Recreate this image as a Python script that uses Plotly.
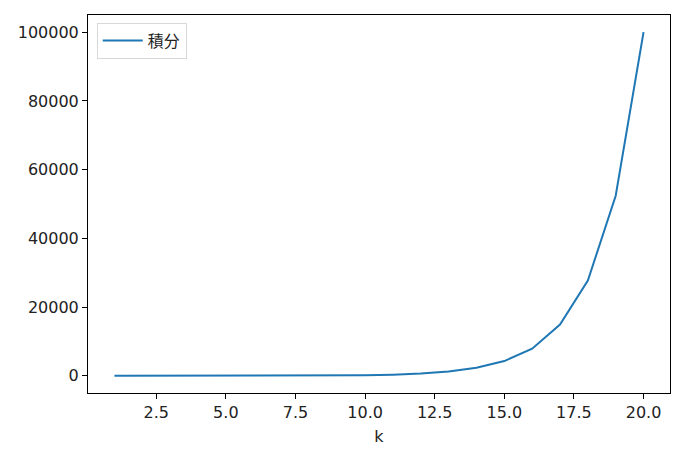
import plotly.graph_objects as go

# values
k = list(range(1, 21))
integral = [0.5, 1, 2, 4, 7, 14, 26, 50, 95, 180,
            340, 650, 1250, 2350, 4300, 7900, 14900, 27700, 52400, 100000]

x_ticks = [2.5, 5.0, 7.5, 10.0, 12.5, 15.0, 17.5, 20.0]
x_tick_text = ["2.5", "5.0", "7.5", "10.0", "12.5", "15.0", "17.5", "20.0"]
y_ticks = [0, 20000, 40000, 60000, 80000, 100000]

fig = go.Figure()
fig.add_trace(go.Scatter(
    x=k, y=integral,
    mode="lines",
    line=dict(color="#1f77b4", width=2),
    name="積分",
))

axis_style = dict(
    showgrid=False, zeroline=False,
    showline=True, linecolor="black", linewidth=1, mirror=True,
    ticks="outside", ticklen=5, tickcolor="black", tickwidth=1,
    tickfont=dict(family="DejaVu Sans", size=16, color="#222222"),
)

# page body has an 8px margin, so the figure is a bit smaller than the window
fig.update_layout(
    width=681, height=451,
    margin=dict(l=80, r=19, t=7, b=66),
    paper_bgcolor="white", plot_bgcolor="white",
    font=dict(family="DejaVu Sans, Noto Sans CJK SC", size=16, color="#222222"),
    showlegend=True,
    legend=dict(
        x=0.015, y=0.98, xanchor="left", yanchor="top",
        bordercolor="#d8d8d8", borderwidth=1, bgcolor="rgba(255,255,255,0.8)",
        itemwidth=40,
        font=dict(family="Noto Sans CJK SC", size=16, color="#222222"),
    ),
    xaxis=dict(axis_style, range=[0.05, 20.95], tickvals=x_ticks, ticktext=x_tick_text,
               title=dict(text="k", standoff=9,
                          font=dict(family="DejaVu Sans", size=16, color="#222222"))),
    yaxis=dict(axis_style, range=[-5000, 105000], tickvals=y_ticks,
               tickformat="d"),
)

fig.write_html("out.html")
